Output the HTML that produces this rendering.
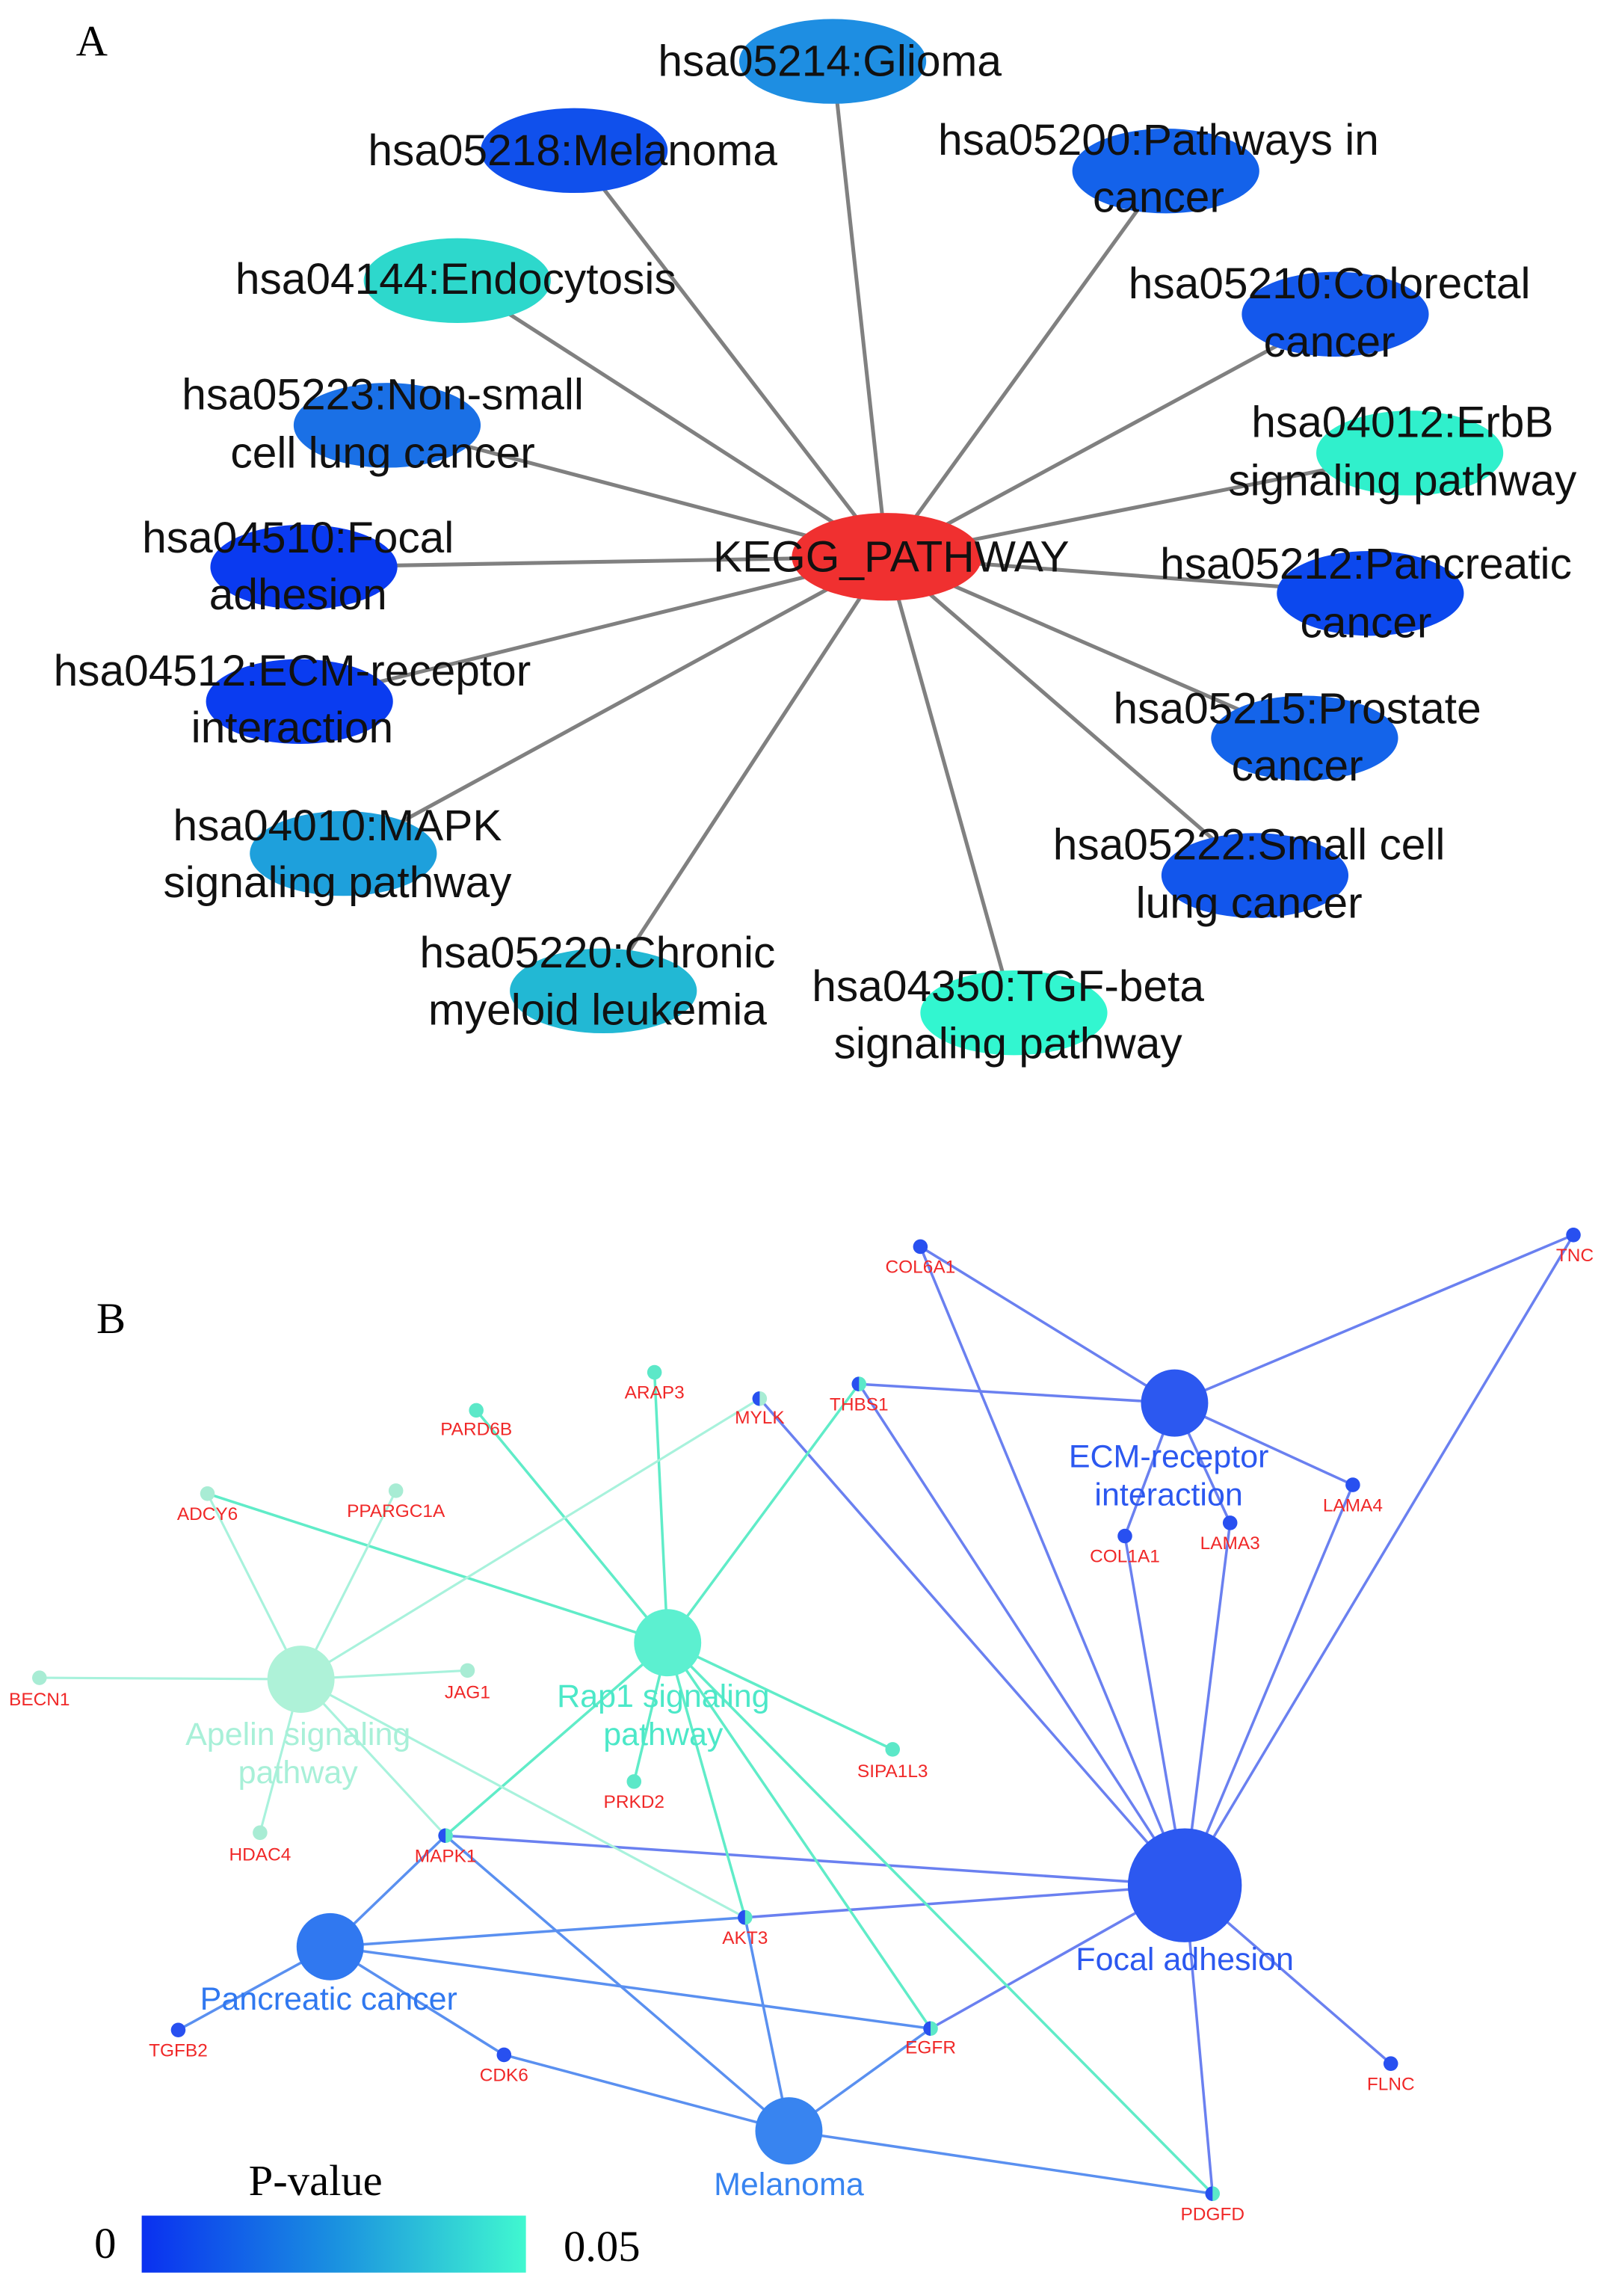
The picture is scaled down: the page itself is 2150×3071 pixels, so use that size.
<!DOCTYPE html>
<html><head><meta charset="utf-8"><style>html,body{margin:0;padding:0;background:#fff}svg{display:block}</style></head>
<body>
<svg width="2150" height="3071" viewBox="0 0 1100 1571" preserveAspectRatio="none" xmlns="http://www.w3.org/2000/svg" font-family="Liberation Sans, sans-serif">
<defs><linearGradient id="g" x1="0" x2="1"><stop offset="0" stop-color="#0a30f0"/><stop offset="0.5" stop-color="#1a90e0"/><stop offset="1" stop-color="#40f8d0"/></linearGradient></defs>
<rect width="1100" height="1571" fill="#fff"/>
<text x="52" y="38" font-family="Liberation Serif, serif" font-size="30">A</text>
<g stroke="#808080" stroke-width="2.6">
<line x1="607" y1="381" x2="570" y2="42"/><line x1="607" y1="381" x2="393" y2="103"/><line x1="607" y1="381" x2="798" y2="117"/><line x1="607" y1="381" x2="313" y2="192"/><line x1="607" y1="381" x2="914" y2="215"/><line x1="607" y1="381" x2="265" y2="291"/><line x1="607" y1="381" x2="965" y2="310"/><line x1="607" y1="381" x2="208" y2="388"/><line x1="607" y1="381" x2="938" y2="406"/><line x1="607" y1="381" x2="205" y2="480"/><line x1="607" y1="381" x2="893" y2="505"/><line x1="607" y1="381" x2="235" y2="584"/><line x1="607" y1="381" x2="859" y2="599"/><line x1="607" y1="381" x2="413" y2="678"/><line x1="607" y1="381" x2="694" y2="693"/>
</g>
<g>
<ellipse cx="570" cy="42" rx="64" ry="29" fill="#1e8ee2"/>
<ellipse cx="393" cy="103" rx="64" ry="29" fill="#1050ec"/>
<ellipse cx="798" cy="117" rx="64" ry="29" fill="#1462ea"/>
<ellipse cx="313" cy="192" rx="64" ry="29" fill="#2dd8cc"/>
<ellipse cx="914" cy="215" rx="64" ry="29" fill="#1458ec"/>
<ellipse cx="265" cy="291" rx="64" ry="29" fill="#1a70e6"/>
<ellipse cx="965" cy="310" rx="64" ry="29" fill="#30f0cc"/>
<ellipse cx="607" cy="381" rx="65" ry="30" fill="#f03030"/>
<ellipse cx="208" cy="388" rx="64" ry="29" fill="#0a3af0"/>
<ellipse cx="938" cy="406" rx="64" ry="29" fill="#0c48ee"/>
<ellipse cx="205" cy="480" rx="64" ry="29" fill="#0a3cf0"/>
<ellipse cx="893" cy="505" rx="64" ry="29" fill="#1464ea"/>
<ellipse cx="235" cy="584" rx="64" ry="29" fill="#1ea0dc"/>
<ellipse cx="859" cy="599" rx="64" ry="29" fill="#1256ec"/>
<ellipse cx="413" cy="678" rx="64" ry="29" fill="#22b8d4"/>
<ellipse cx="694" cy="693" rx="64" ry="29" fill="#32f6d0"/>
</g>
<g font-size="30" fill="#111" text-anchor="middle">
<text x="568" y="52">hsa05214:Glioma</text>
<text x="392" y="113">hsa05218:Melanoma</text>
<text x="793" y="106">hsa05200:Pathways in</text><text x="793" y="145">cancer</text>
<text x="312" y="201">hsa04144:Endocytosis</text>
<text x="910" y="204">hsa05210:Colorectal</text><text x="910" y="244">cancer</text>
<text x="262" y="280">hsa05223:Non-small</text><text x="262" y="320">cell lung cancer</text>
<text x="960" y="299">hsa04012:ErbB</text><text x="960" y="339">signaling pathway</text>
<text x="610" y="391">KEGG_PATHWAY</text>
<text x="204" y="378">hsa04510:Focal</text><text x="204" y="417">adhesion</text>
<text x="935" y="396">hsa05212:Pancreatic</text><text x="935" y="436">cancer</text>
<text x="200" y="469">hsa04512:ECM-receptor</text><text x="200" y="508">interaction</text>
<text x="888" y="495">hsa05215:Prostate</text><text x="888" y="534">cancer</text>
<text x="231" y="575">hsa04010:MAPK</text><text x="231" y="614">signaling pathway</text>
<text x="855" y="588">hsa05222:Small cell</text><text x="855" y="628">lung cancer</text>
<text x="409" y="662">hsa05220:Chronic</text><text x="409" y="701">myeloid leukemia</text>
<text x="690" y="685">hsa04350:TGF-beta</text><text x="690" y="724">signaling pathway</text>
</g>
<text x="66" y="912" font-family="Liberation Serif, serif" font-size="30">B</text>
<g stroke="#6a80f0" stroke-width="1.8" fill="none">
<line x1="804" y1="960" x2="630" y2="853"/><line x1="804" y1="960" x2="1077" y2="845"/><line x1="804" y1="960" x2="588" y2="947"/><line x1="804" y1="960" x2="926" y2="1016"/><line x1="804" y1="960" x2="770" y2="1051"/><line x1="804" y1="960" x2="842" y2="1042"/>
<line x1="811" y1="1290" x2="630" y2="853"/><line x1="811" y1="1290" x2="1077" y2="845"/><line x1="811" y1="1290" x2="588" y2="947"/><line x1="811" y1="1290" x2="520" y2="957"/><line x1="811" y1="1290" x2="926" y2="1016"/><line x1="811" y1="1290" x2="770" y2="1051"/><line x1="811" y1="1290" x2="842" y2="1042"/><line x1="811" y1="1290" x2="305" y2="1256"/><line x1="811" y1="1290" x2="510" y2="1312"/><line x1="811" y1="1290" x2="637" y2="1388"/><line x1="811" y1="1290" x2="952" y2="1412"/><line x1="811" y1="1290" x2="830" y2="1501"/>
</g>
<g stroke="#5a90f0" stroke-width="1.8">
<line x1="226" y1="1332" x2="305" y2="1256"/><line x1="226" y1="1332" x2="510" y2="1312"/><line x1="226" y1="1332" x2="637" y2="1388"/><line x1="226" y1="1332" x2="122" y2="1389"/><line x1="226" y1="1332" x2="345" y2="1406"/>
<line x1="540" y1="1458" x2="305" y2="1256"/><line x1="540" y1="1458" x2="510" y2="1312"/><line x1="540" y1="1458" x2="637" y2="1388"/><line x1="540" y1="1458" x2="345" y2="1406"/><line x1="540" y1="1458" x2="830" y2="1501"/>
</g>
<g stroke="#60ecc8" stroke-width="1.8">
<line x1="457" y1="1124" x2="326" y2="965"/><line x1="457" y1="1124" x2="448" y2="939"/><line x1="457" y1="1124" x2="588" y2="947"/><line x1="457" y1="1124" x2="142" y2="1022"/><line x1="457" y1="1124" x2="305" y2="1256"/><line x1="457" y1="1124" x2="434" y2="1219"/><line x1="457" y1="1124" x2="611" y2="1197"/><line x1="457" y1="1124" x2="510" y2="1312"/><line x1="457" y1="1124" x2="637" y2="1388"/><line x1="457" y1="1124" x2="830" y2="1501"/>
</g>
<g stroke="#a8f2dc" stroke-width="1.6">
<line x1="206" y1="1149" x2="142" y2="1022"/><line x1="206" y1="1149" x2="271" y2="1020"/><line x1="206" y1="1149" x2="520" y2="957"/><line x1="206" y1="1149" x2="27" y2="1148"/><line x1="206" y1="1149" x2="320" y2="1143"/><line x1="206" y1="1149" x2="178" y2="1254"/><line x1="206" y1="1149" x2="305" y2="1256"/><line x1="206" y1="1149" x2="510" y2="1312"/>
</g>
<circle cx="804" cy="960" r="23" fill="#2c58f0"/>
<circle cx="811" cy="1290" r="39" fill="#2c58f0"/>
<circle cx="457" cy="1124" r="23" fill="#5cf0d0"/>
<circle cx="206" cy="1149" r="23" fill="#aef2d8"/>
<circle cx="226" cy="1332" r="23" fill="#3078f0"/>
<circle cx="540" cy="1458" r="23" fill="#3884f0"/>
<g fill="#2850f0">
<circle cx="630" cy="853" r="5"/><circle cx="1077" cy="845" r="5"/><circle cx="926" cy="1016" r="5"/><circle cx="770" cy="1051" r="5"/><circle cx="842" cy="1042" r="5"/><circle cx="952" cy="1412" r="5"/><circle cx="122" cy="1389" r="5"/><circle cx="345" cy="1406" r="5"/>
</g>
<g fill="#5ce8c8">
<circle cx="326" cy="965" r="5"/><circle cx="448" cy="939" r="5"/><circle cx="611" cy="1197" r="5"/><circle cx="434" cy="1219" r="5"/>
</g>
<g fill="#a8ecd4">
<circle cx="142" cy="1022" r="5"/><circle cx="271" cy="1020" r="5"/><circle cx="27" cy="1148" r="5"/><circle cx="320" cy="1143" r="5"/><circle cx="178" cy="1254" r="5"/>
</g>
<g>
<circle cx="588" cy="947" r="5" fill="#5ce8c8"/><path d="M588 942 A5 5 0 0 0 588 952Z" fill="#2850f0"/>
<circle cx="520" cy="957" r="5" fill="#a8ecd4"/><path d="M520 952 A5 5 0 0 0 520 962Z" fill="#2850f0"/>
<circle cx="305" cy="1256" r="5" fill="#5ce8c8"/><path d="M305 1251 A5 5 0 0 0 305 1261Z" fill="#2850f0"/>
<circle cx="510" cy="1312" r="5" fill="#5ce8c8"/><path d="M510 1307 A5 5 0 0 0 510 1317Z" fill="#2850f0"/>
<circle cx="637" cy="1388" r="5" fill="#5ce8c8"/><path d="M637 1383 A5 5 0 0 0 637 1393Z" fill="#2850f0"/>
<circle cx="830" cy="1501" r="5" fill="#5ce8c8"/><path d="M830 1496 A5 5 0 0 0 830 1506Z" fill="#2850f0"/>
</g>
<g fill="#f02828" font-size="12.5" text-anchor="middle">
<text x="630" y="871">COL6A1</text><text x="1078" y="863">TNC</text><text x="926" y="1034">LAMA4</text><text x="770" y="1069">COL1A1</text><text x="842" y="1060">LAMA3</text>
<text x="588" y="965">THBS1</text><text x="520" y="974">MYLK</text><text x="448" y="957">ARAP3</text><text x="326" y="982">PARD6B</text>
<text x="142" y="1040">ADCY6</text><text x="271" y="1038">PPARGC1A</text><text x="27" y="1167">BECN1</text><text x="320" y="1162">JAG1</text>
<text x="611" y="1216">SIPA1L3</text><text x="434" y="1237">PRKD2</text><text x="178" y="1273">HDAC4</text><text x="305" y="1274">MAPK1</text>
<text x="510" y="1330">AKT3</text><text x="122" y="1407">TGFB2</text><text x="345" y="1424">CDK6</text><text x="637" y="1405">EGFR</text>
<text x="952" y="1430">FLNC</text><text x="830" y="1519">PDGFD</text>
</g>
<g font-size="22" text-anchor="middle">
<text x="800" y="1004" fill="#2c58f0">ECM-receptor</text><text x="800" y="1030" fill="#2c58f0">interaction</text>
<text x="811" y="1348" fill="#2c58f0">Focal adhesion</text>
<text x="454" y="1168" fill="#4ce8c8">Rap1 signaling</text><text x="454" y="1194" fill="#4ce8c8">pathway</text>
<text x="204" y="1194" fill="#a8f0d8">Apelin signaling</text><text x="204" y="1220" fill="#a8f0d8">pathway</text>
<text x="225" y="1375" fill="#3078f0">Pancreatic cancer</text>
<text x="540" y="1502" fill="#3884f0">Melanoma</text>
</g>
<text x="216" y="1502" font-family="Liberation Serif, serif" font-size="30" text-anchor="middle">P-value</text>
<text x="72" y="1545" font-family="Liberation Serif, serif" font-size="30" text-anchor="middle">0</text>
<rect x="97" y="1516" width="263" height="39" fill="url(#g)"/>
<text x="412" y="1547" font-family="Liberation Serif, serif" font-size="30" text-anchor="middle">0.05</text>
</svg>
</body></html>
